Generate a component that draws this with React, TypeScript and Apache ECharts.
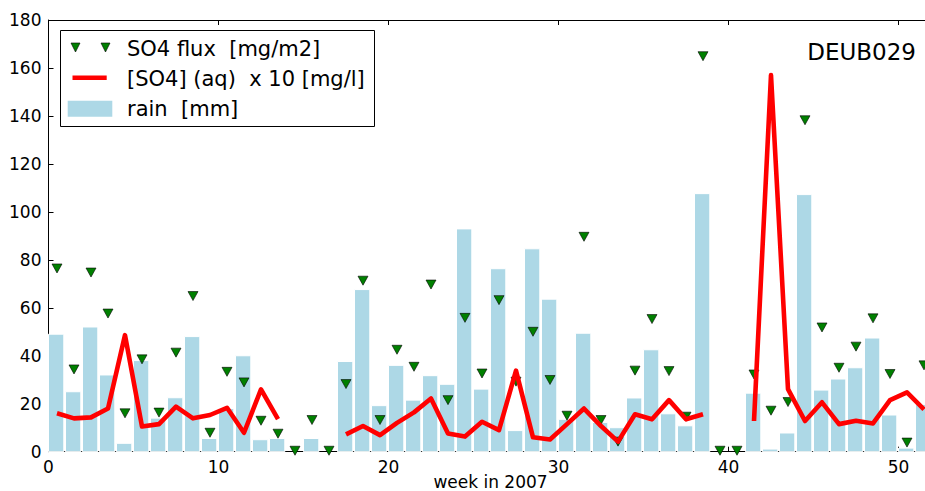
import React, { useEffect, useRef } from "react";
import * as echarts from "echarts";

const weeks: number[] = Array.from({ length: 52 }, (_, i) => i);

const rain: number[] = [
  49, 25, 52, 32, 3.5, 38, 14, 22.5, 48, 5.5,
  18, 40, 5, 5.5, 0, 5.5, 0, 37.6, 67.6, 19.2,
  36, 21.5, 31.7, 28.1, 92.9, 26.1, 76.3, 8.8, 84.6, 63.6,
  13.5, 49.4, 12.2, 10, 22.4, 42.5, 15.8, 10.8, 107.6, 0,
  0, 24.4, 1.1, 7.8, 107.2, 25.7, 30.3, 35, 47.4, 15.3,
  1.5, 19.7,
];

const flux: number[] = [
  76.4, 34.3, 74.7, 57.6, 16, 38.5, 16.3, 41.3, 64.9, 7.9,
  33.3, 28.9, 12.9, 7.5, 0.4, 13.2, 0.4, 28.2, 71.3, 13.2,
  42.5, 35.4, 69.7, 21.5, 55.8, 32.6, 63.2, 29.2, 50, 29.9,
  15, 89.6, 13.2, 4.2, 33.8, 55.3, 33.6, 14.6, 164.9, 0.4,
  0.4, 32.2, 17.1, 20.7, 138.2, 51.8, 35, 43.8, 55.6, 32.4,
  3.8, 36,
];

const conc: (number | null)[] = [
  16, 13.9, 14.3, 18, 48.6, 10.5, 11.5, 18.8, 13.9, 15.3,
  18.3, 7.9, 26, 13.6, null, null, null, 7.2, 10.7, 6.9,
  12, 16.4, 22.2, 7.6, 6.3, 12.5, 9, 33.8, 6, 5.1,
  11.5, 18, 10.7, 4.2, 15.6, 13.5, 21.5, 13.5, 15.6, null,
  null, 12.8, 157, 26.1, 12.8, 20.6, 11.5, 12.9, 11.8, 21.5,
  24.7, 17.6,
];

const xTicks = { min: 0, max: 52, interval: 10 };
const yTicks = { min: 0, max: 180, interval: 20 };

const stationLabel = "DEUB029";
const legendLabels = ["SO4 flux  [mg/m2]", "[SO4] (aq)  x 10 [mg/l]", "rain  [mm]"];
const xAxisTitle = "week in 2007";

const FONT = "'DejaVu Sans', sans-serif";

export default function App() {
  const ref = useRef<HTMLDivElement>(null);
  useEffect(() => {
    if (!ref.current) return;
    const chart = echarts.init(ref.current, null, { renderer: "svg" });
    const barData = weeks.map((w, i) => [w, rain[i]]);
    const fluxData = weeks.map((w, i) => [w + 0.5, flux[i]]);
    const concData = weeks.map((w, i) => [w + 0.5, conc[i] === null ? "-" : conc[i]]);

    const axisCommon = {
      type: "value" as const,
      axisLine: { show: true, onZero: false, lineStyle: { color: "#000", width: 1 } },
      axisTick: { show: true, inside: true, length: 5, lineStyle: { color: "#000" } },
      splitLine: { show: false },
    };

    chart.setOption({
      animation: false,
      backgroundColor: "#fff",
      grid: {
        left: 48.5,
        right: -7.5,
        top: 20,
        bottom: 39.3,
        containLabel: false,
        outerBoundsMode: "none",
      },
      xAxis: [
        {
          ...axisCommon,
          position: "bottom",
          ...xTicks,
          name: xAxisTitle,
          nameLocation: "middle",
          nameGap: 22.5,
          nameMoveOverlap: false,
          nameTextStyle: { fontFamily: FONT, fontSize: 17, lineHeight: 16, color: "#000" },
          axisLabel: { fontFamily: FONT, fontSize: 17, color: "#000", margin: 7, showMaxLabel: false },
        },
        {
          ...axisCommon,
          position: "top",
          ...xTicks,
          axisLabel: { show: false },
        },
      ],
      yAxis: [
        {
          ...axisCommon,
          position: "left",
          ...yTicks,
          axisLabel: { fontFamily: FONT, fontSize: 17, color: "#000", margin: 7 },
        },
      ],
      series: [
        {
          type: "custom",
          name: legendLabels[2],
          z: 1,
          data: barData,
          encode: { x: 0, y: 1 },
          renderItem: (params: any, api: any) => {
            const w = api.value(0);
            const v = api.value(1);
            if (!v) return null;
            const p1 = api.coord([w, v]);
            const p2 = api.coord([w + 0.9, 0]);
            return {
              type: "rect",
              shape: { x: p1[0], y: p1[1], width: p2[0] - p1[0], height: p2[1] - p1[1] },
              style: { fill: "#add8e6", stroke: "#ffffff", lineWidth: 1 },
            };
          },
        },
        {
          type: "scatter",
          name: legendLabels[0],
          z: 3,
          data: fluxData,
          symbol: "triangle",
          symbolRotate: 180,
          symbolSize: [10, 9],
          itemStyle: { color: "#008000", borderColor: "#000", borderWidth: 0.6, opacity: 1 },
        },
        {
          type: "line",
          name: legendLabels[1],
          z: 4,
          data: concData,
          showSymbol: false,
          symbol: "none",
          connectNulls: false,
          lineStyle: { color: "#ff0000", width: 4.6, cap: "butt", join: "round" },
        },
      ],
      graphic: [
        {
          type: "group",
          z: 100,
          children: [
            {
              type: "rect",
              shape: { x: 60.5, y: 30.5, width: 314, height: 96 },
              style: { fill: "#fff", stroke: "#000", lineWidth: 1 },
            },
            {
              type: "polygon",
              shape: { points: [[71, 43], [80, 43], [75.5, 52]] },
              style: { fill: "#008000", stroke: "#000", lineWidth: 0.6 },
            },
            {
              type: "polygon",
              shape: { points: [[101, 43], [110, 43], [105.5, 52]] },
              style: { fill: "#008000", stroke: "#000", lineWidth: 0.6 },
            },
            {
              type: "line",
              shape: { x1: 72.5, y1: 77.7, x2: 106.7, y2: 77.7 },
              style: { stroke: "#ff0000", lineWidth: 4.6 },
            },
            {
              type: "rect",
              shape: { x: 67.7, y: 100.7, width: 44.6, height: 16 },
              style: { fill: "#add8e6", stroke: "#ffffff", lineWidth: 0 },
            },
            {
              type: "text",
              x: 127, y: 48.5,
              style: { text: legendLabels[0], fontFamily: FONT, fontSize: 21, fill: "#000", verticalAlign: "middle" },
            },
            {
              type: "text",
              x: 127, y: 78.5,
              style: { text: legendLabels[1], fontFamily: FONT, fontSize: 21, fill: "#000", verticalAlign: "middle" },
            },
            {
              type: "text",
              x: 127, y: 108.5,
              style: { text: legendLabels[2], fontFamily: FONT, fontSize: 21, fill: "#000", verticalAlign: "middle" },
            },
          ],
        },
        {
          type: "text",
          z: 100,
          right: 9,
          top: 40,
          style: { text: stationLabel, fontFamily: FONT, fontSize: 23, fill: "#000" },
        },
      ],
    });
    return () => chart.dispose();
  }, []);
  return (
    <div
      ref={ref}
      style={{ position: "fixed", left: 0, top: 0, width: 925, height: 491 }}
    />
  );
}
